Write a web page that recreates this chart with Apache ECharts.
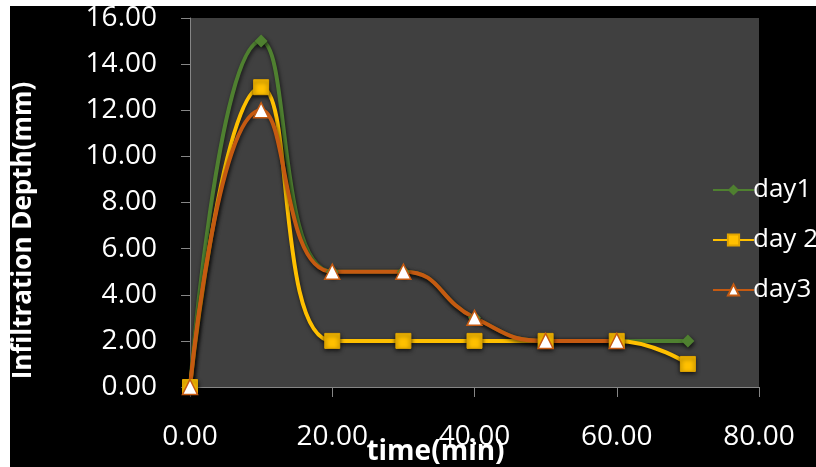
<!DOCTYPE html>
<html><head><meta charset="utf-8">
<script src="https://cdn.jsdelivr.net/npm/echarts@6/dist/echarts.min.js"></script>
<style>
html,body{margin:0;padding:0;background:#fff;width:816px;height:467px;overflow:hidden;}
#c{position:absolute;left:10px;top:6px;width:806px;height:461px;}
</style></head>
<body><div id="c"></div>
<script>
var times = [0, 10, 20, 30, 40, 50, 60, 70];
var day1 = [0, 15, 5, 5, 3, 2, 2, 2];
var day2 = [0, 13, 2, 2, 2, 2, 2, 1];
var day3 = [0, 12, 5, 5, 3, 2, 2, null];
var seriesNames = ['day1', 'day 2', 'day3'];

function pairs(xs, ys){ var r=[]; for(var i=0;i<xs.length;i++){ if(ys[i]!==null) r.push([xs[i], ys[i]]); } return r; }

var font = '"Open Sans", sans-serif';
var shadow = {shadowColor:'rgba(0,0,0,0.7)', shadowBlur:4, shadowOffsetY:2, shadowOffsetX:1};
var chart = echarts.init(document.getElementById('c'));
chart.setOption({
  backgroundColor:'#000',
  animation:false,
  grid:{left:180, top:12, width:569, height:369, show:true, backgroundColor:'#404040', borderWidth:0,
        containLabel:false, outerBoundsMode:'none'},
  legend:{
    orient:'vertical', left:697, top:166, itemWidth:41, itemHeight:14, itemGap:24,
    textStyle:{color:'#fff', fontSize:26, fontFamily:font, padding:[0,0,0,-6]},
    data:seriesNames
  },
  xAxis:{
    type:'value', min:0, max:80, interval:20,
    name:'time(min)', nameLocation:'middle', nameGap:51, nameMoveOverlap:false,
    nameTextStyle:{color:'#fff', fontSize:28, fontWeight:'bold', fontFamily:font, padding:[0,78,0,0]},
    axisLine:{lineStyle:{color:'#868686', width:1}},
    axisTick:{show:true, length:10, lineStyle:{color:'#868686'}},
    splitLine:{show:false},
    axisLabel:{color:'#fff', fontSize:28, fontFamily:font, margin:36, formatter:function(v){return v.toFixed(2);}}
  },
  yAxis:{
    type:'value', min:0, max:16, interval:2,
    name:'Infiltration Depth(mm)', nameLocation:'middle', nameGap:153, nameMoveOverlap:false,
    nameTextStyle:{color:'#fff', fontSize:26, fontWeight:'bold', fontFamily:font, padding:[0,56,0,0]},
    axisLine:{show:true, lineStyle:{color:'#868686', width:1}},
    axisTick:{show:true, length:9, lineStyle:{color:'#868686'}},
    splitLine:{show:false},
    axisLabel:{color:'#fff', fontSize:28, fontFamily:font, margin:33, formatter:function(v){return v.toFixed(2);}}
  },
  series:[
    {name:seriesNames[0], type:'line', smooth:0.5, data:pairs(times, day1),
     symbol:'diamond', symbolSize:13, color:'#4F8030',
     lineStyle:Object.assign({width:4, color:'#4F8030'}, shadow),
     itemStyle:Object.assign({color:'#4F8030'}, shadow)},
    {name:seriesNames[1], type:'line', smooth:0.5, data:pairs(times, day2),
     symbol:'rect', symbolSize:15, color:'#FFC000',
     lineStyle:Object.assign({width:4, color:'#FFC000'}, shadow),
     itemStyle:{color:'#FFC000', borderColor:'#E0A400', borderWidth:1, shadowColor:'rgba(0,0,0,0.7)', shadowBlur:4, shadowOffsetY:2}},
    {name:seriesNames[2], type:'line', smooth:0.5, data:pairs(times, day3),
     symbol:'triangle', symbolSize:15, color:'#C55A11',
     lineStyle:Object.assign({width:4, color:'#C55A11'}, shadow),
     itemStyle:{color:'#ffffff', borderColor:'#C55A11', borderWidth:1.5}}
  ]
});
</script></body></html>
